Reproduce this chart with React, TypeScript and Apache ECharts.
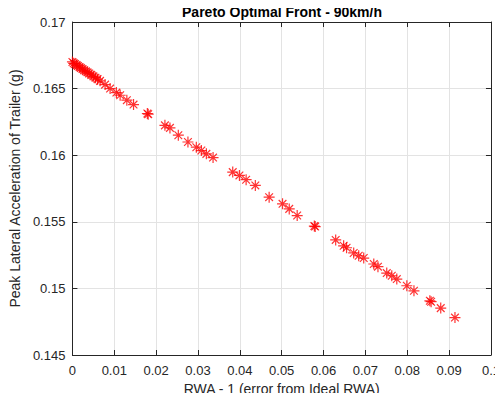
import React, { useEffect, useRef } from "react";
import * as echarts from "echarts";

const title = "Pareto Optimal Front - 90km/h";
const xName = "RWA - 1 (error from Ideal RWA)";
const yName = "Peak Lateral Acceleration of Trailer (g)";

const rwaError = [
  0, 0.0003, 0.0006, 0.001, 0.0013, 0.0017, 0.002, 0.0024, 0.0028, 0.0032, 0.0036,
  0.004, 0.0045, 0.005, 0.0055, 0.006, 0.0066, 0.0078, 0.009, 0.0105, 0.0114,
  0.013, 0.0146, 0.0179, 0.0181, 0.0221, 0.0233, 0.0253, 0.0276, 0.0296, 0.0308,
  0.032, 0.0336, 0.0383, 0.0399, 0.0415, 0.0437, 0.047, 0.0502, 0.0518, 0.0537,
  0.0578, 0.058, 0.0629, 0.0648, 0.0655, 0.0672, 0.0684, 0.0696, 0.072, 0.073,
  0.0751, 0.0763, 0.0775, 0.0799, 0.0816, 0.0854, 0.0857, 0.088, 0.0914,
];
const peakLatAcc = [
  0.167, 0.1669, 0.16685, 0.16677, 0.1667, 0.16662, 0.16655, 0.16647, 0.16638,
  0.1663, 0.16622, 0.16613, 0.16603, 0.16592, 0.16582, 0.16571, 0.16558, 0.1653,
  0.165, 0.1647, 0.1645, 0.16413, 0.1638, 0.16313, 0.16308, 0.16224, 0.16205,
  0.1615, 0.16099, 0.1606, 0.16035, 0.1601, 0.15982, 0.15873, 0.15848, 0.15816,
  0.15773, 0.15685, 0.15635, 0.15597, 0.15547, 0.15468, 0.15464, 0.15364, 0.1532,
  0.15305, 0.15266, 0.15245, 0.15228, 0.15183, 0.15163, 0.15115, 0.15095, 0.1507,
  0.1502, 0.14982, 0.14907, 0.149, 0.14852, 0.14781,
];

const xTicks = { min: 0, max: 0.1, interval: 0.01 };
const yTicks = { min: 0.145, max: 0.17, interval: 0.005 };

const FONT = "'Liberation Sans', Arial, Helvetica, sans-serif";
const AXIS = "#262626";

export default function App() {
  const ref = useRef<HTMLDivElement>(null);
  useEffect(() => {
    if (!ref.current) return;
    const chart = echarts.init(ref.current, undefined, { renderer: "svg" });
    const xFmt = (v: number) => {
      const r = Math.round(v * 100) / 100;
      return r === 0 ? "0" : String(r);
    };
    const yFmt = (v: number) => String(Math.round(v * 1000) / 1000);
    const common = {
      axisLine: { show: true, onZero: false, lineStyle: { color: AXIS, width: 1 } },
      axisTick: { show: true, inside: true, length: 5, lineStyle: { color: AXIS } },
    };
    chart.setOption({
      animation: false,
      backgroundColor: "#ffffff",
      textStyle: { fontFamily: FONT },
      graphic: [
        {
          type: "text",
          x: 282,
          y: 12,
          style: {
            text: title,
            fill: "#000",
            font: `bold 14px ${FONT}`,
            align: "center",
            verticalAlign: "middle",
          },
        },
      ],
      grid: { left: 72, right: 10, top: 22, bottom: 46, containLabel: false },
      xAxis: [
        {
          type: "value",
          ...xTicks,
          ...common,
          name: xName,
          nameLocation: "middle",
          nameGap: 27,
          nameTextStyle: { fontFamily: FONT, fontSize: 14, color: AXIS },
          axisLabel: { color: AXIS, fontSize: 13, fontFamily: FONT, margin: 9, formatter: xFmt },
          splitLine: { show: true, lineStyle: { color: "#e3e3e3", width: 1 } },
        },
        {
          type: "value",
          position: "top",
          ...xTicks,
          ...common,
          axisLabel: { show: false },
          splitLine: { show: false },
        },
      ],
      yAxis: [
        {
          type: "value",
          ...yTicks,
          ...common,
          name: yName,
          nameLocation: "middle",
          nameGap: 43,
          nameTextStyle: { fontFamily: FONT, fontSize: 14, color: AXIS },
          axisLabel: { color: AXIS, fontSize: 13, fontFamily: FONT, margin: 7, formatter: yFmt },
          splitLine: { show: true, lineStyle: { color: "#e3e3e3", width: 1 } },
        },
        {
          type: "value",
          position: "right",
          ...yTicks,
          ...common,
          axisLabel: { show: false },
          splitLine: { show: false },
        },
      ],
      series: [
        {
          type: "scatter",
          data: rwaError.map((x, i) => [x, peakLatAcc[i]]),
          symbol:
            "path://M5,0L5,10M0,5L10,5M1.5,1.5L8.5,8.5M1.5,8.5L8.5,1.5",
          symbolSize: 11,
          itemStyle: { color: "none", borderColor: "#ff0000", borderWidth: 1.2 },
          emphasis: { disabled: true },
        },
      ],
    });
    return () => chart.dispose();
  }, []);
  return <div ref={ref} style={{ width: 503, height: 401, margin: -8 }} />;
}
